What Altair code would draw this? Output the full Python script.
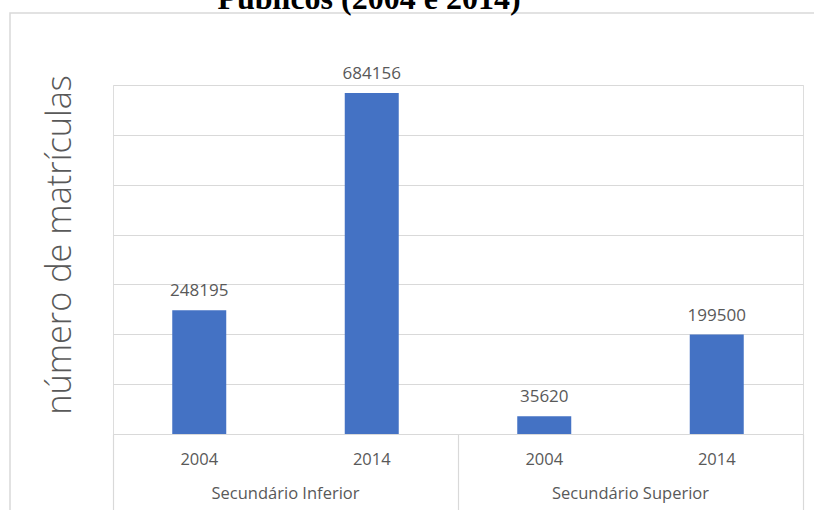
import altair as alt
import pandas as pd

# Enrolments by cycle and year
grupos = ["Secundário Inferior", "Secundário Inferior", "Secundário Superior", "Secundário Superior"]
anos = ["2004", "2014", "2004", "2014"]
matriculas = [248195, 684156, 35620, 199500]

ordem_grupos = ["Secundário Inferior", "Secundário Superior"]
grade_y = [0, 100000, 200000, 300000, 400000, 500000, 600000, 700000]

df = pd.DataFrame({"grupo": grupos, "ano": anos, "matriculas": matriculas})
df_grupos = pd.DataFrame({"grupo": ordem_grupos})

FONTE = "Open Sans"
CINZA = "#595959"
LINHA = "#D9D9D9"

x_enc = alt.X(
    "grupo:N",
    sort=ordem_grupos,
    scale=alt.Scale(paddingInner=0, paddingOuter=0),
    axis=alt.Axis(
        title=None,
        labels=False,
        domain=True,
        domainColor=LINHA,
        domainWidth=1.2,
        ticks=True,
        tickBand="extent",
        tickSize=76,
        tickColor=LINHA,
        tickWidth=1.2,
        grid=False,
    ),
)
xoff_enc = alt.XOffset(
    "ano:N",
    scale=alt.Scale(paddingInner=0.687, paddingOuter=0.3435),
)
y_enc = alt.Y(
    "matriculas:Q",
    scale=alt.Scale(domain=[0, 700000], nice=False),
    axis=alt.Axis(
        values=grade_y,
        labels=False,
        ticks=False,
        domain=False,
        grid=True,
        gridColor=LINHA,
        gridWidth=1.2,
        title="número de matrículas",
        titleFont=FONTE,
        titleFontSize=34.3,
        titleFontWeight=300,
        titleColor=CINZA,
        titleX=-53,
        titleY=159.5,
        titleAlign="center",
        titleBaseline="middle",
    ),
)

# Outer chart frame
moldura = alt.Chart(alt.Data(values=[{}])).mark_rect(
    fillOpacity=0, stroke=LINHA, strokeWidth=1.5
).encode(
    x=alt.value(-103), x2=alt.value(720), y=alt.value(-72), y2=alt.value(440)
)

base = alt.Chart(df)

barras = base.mark_bar(color="#4472C4").encode(x=x_enc, xOffset=xoff_enc, y=y_enc)

rotulos = base.mark_text(
    font=FONTE, fontSize=17, color=CINZA, baseline="alphabetic", dy=-14
).encode(
    x=alt.X("grupo:N", sort=ordem_grupos),
    xOffset=alt.XOffset("ano:N"),
    y=alt.Y("matriculas:Q"),
    text=alt.Text("matriculas:Q", format="d"),
)

rotulos_ano = base.mark_text(
    font=FONTE, fontSize=16.5, color=CINZA, baseline="middle"
).encode(
    x=alt.X("grupo:N", sort=ordem_grupos),
    xOffset=alt.XOffset("ano:N"),
    y=alt.value(375),
    text="ano:N",
)

rotulos_grupo = alt.Chart(df_grupos).mark_text(
    font=FONTE, fontSize=16.5, color=CINZA, baseline="middle"
).encode(
    x=alt.X("grupo:N", sort=ordem_grupos),
    y=alt.value(409),
    text="grupo:N",
)

chart = alt.layer(
    moldura, barras, rotulos, rotulos_ano, rotulos_grupo
).properties(
    width=690,
    height=349,
    title=alt.TitleParams(
        "Públicos (2004 e 2014)",
        font="Liberation Serif",
        fontSize=32,
        fontWeight="bold",
        color="black",
        anchor="middle",
        frame="group",
        baseline="alphabetic",
        dx=-89,
        dy=29,
        offset=0,
    ),
    autosize=alt.AutoSizeParams(type="none"),
    padding={"left": 113, "top": 85, "right": 11, "bottom": 76},
).configure_view(stroke=None).configure(background="white")

chart.save("out.html", embed_options={"renderer": "svg", "actions": False})
